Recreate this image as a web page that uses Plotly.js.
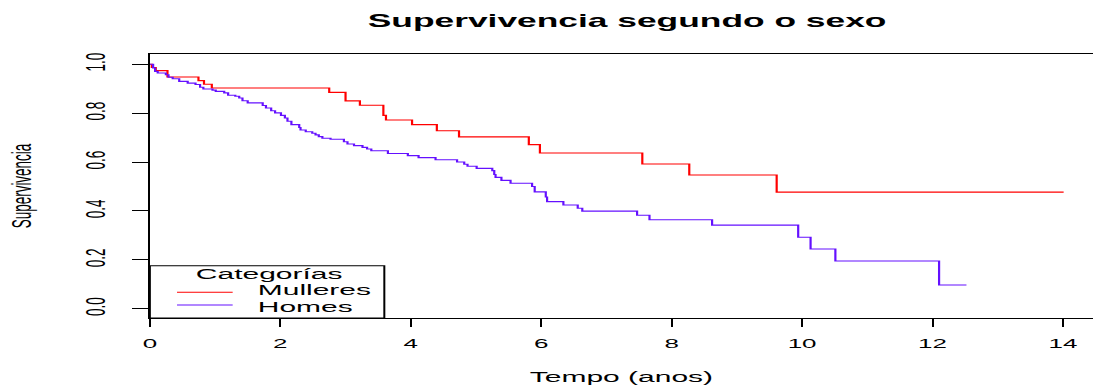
<!DOCTYPE html>
<html>
<head>
<meta charset="utf-8">
<script src="https://cdn.plot.ly/plotly-3.0.1.min.js"></script>
<style>
  html, body { margin: 0; padding: 0; width: 1093px; height: 385px; overflow: hidden; background: #ffffff; }
  #plot { width: 547px; height: 385px; transform-origin: 0 0; }
</style>
</head>
<body>
<div id="plot"></div>
<script>
// ---- data (Kaplan-Meier steps) ----
const chartTitle = "Supervivencia segundo o sexo";
const xTitle = "Tempo (anos)";
const yTitle = "Supervivencia";
const legendTitle = "Categorías";
const seriesNames = ["Mulleres", "Homes"];
const xTicks = [0, 2, 4, 6, 8, 10, 12, 14];
const yTicks = [0.0, 0.2, 0.4, 0.6, 0.8, 1.0];

// Mulleres: time (years) and survival after each step
const mullerTime = [0, 0.03, 0.09, 0.27, 0.745, 0.83, 0.95, 2.75, 3.0, 3.22, 3.58, 3.62, 4.02, 4.40, 4.74, 5.81, 5.98, 7.55, 8.27, 9.61, 14.01];
const mullerSurv = [1.0, 0.987, 0.974, 0.948, 0.933, 0.918, 0.903, 0.885, 0.850, 0.832, 0.791, 0.772, 0.753, 0.728, 0.703, 0.671, 0.637, 0.592, 0.547, 0.477, 0.477];

// Homes
const homeTime = [0, 0.05, 0.08, 0.12, 0.245, 0.286, 0.35, 0.45, 0.58, 0.70, 0.77, 0.82, 0.96, 1.01, 1.14, 1.20, 1.31, 1.37, 1.42, 1.50, 1.73, 1.78, 1.86, 1.92, 2.01, 2.07, 2.11, 2.17, 2.29, 2.31, 2.39, 2.49, 2.54, 2.59, 2.645, 2.77, 2.975, 3.03, 3.13, 3.26, 3.33, 3.395, 3.65, 3.955, 4.12, 4.38, 4.71, 4.82, 4.87, 5.01, 5.25, 5.28, 5.30, 5.39, 5.53, 5.86, 5.90, 6.07, 6.09, 6.34, 6.56, 6.63, 7.47, 7.66, 8.62, 9.94, 10.13, 10.51, 12.10, 12.52];
const homeSurv = [1.0, 0.985, 0.971, 0.964, 0.957, 0.947, 0.941, 0.930, 0.923, 0.917, 0.906, 0.899, 0.894, 0.889, 0.883, 0.873, 0.869, 0.862, 0.851, 0.842, 0.831, 0.821, 0.810, 0.801, 0.791, 0.780, 0.767, 0.753, 0.741, 0.731, 0.724, 0.718, 0.711, 0.704, 0.697, 0.693, 0.683, 0.674, 0.667, 0.660, 0.653, 0.646, 0.635, 0.626, 0.618, 0.609, 0.600, 0.591, 0.583, 0.574, 0.565, 0.549, 0.537, 0.525, 0.513, 0.500, 0.478, 0.457, 0.438, 0.424, 0.411, 0.399, 0.382, 0.364, 0.342, 0.292, 0.244, 0.195, 0.097, 0.097];

const seriesColors = ["#ff0000", "#6410ff"];

// ---- layout (drawn at half width, stretched horizontally like the reference) ----
const W = 547, H = 385;
const SX = 1093 / W;
document.getElementById('plot').style.transform = 'scaleX(' + SX + ')';

const FONT = "Liberation Sans, Arial, Helvetica, sans-serif";

const traces = [
  { x: mullerTime, y: mullerSurv, name: seriesNames[0], type: 'scatter', mode: 'lines',
    line: { shape: 'hv', color: seriesColors[0], width: 1.1 }, showlegend: false, hoverinfo: 'skip' },
  { x: homeTime, y: homeSurv, name: seriesNames[1], type: 'scatter', mode: 'lines',
    line: { shape: 'hv', color: seriesColors[1], width: 1.1 }, showlegend: false, hoverinfo: 'skip' }
];

// manual R-style legend (box at bottom-left of the plot region)
const legX0 = 0, legX1 = 0.2486, legY0 = 0, legY1 = 0.198;
const shapes = [
  { type: 'rect', xref: 'paper', yref: 'paper', x0: legX0, x1: legX1, y0: legY0, y1: legY1,
    line: { color: '#000000', width: 1 }, fillcolor: 'rgba(255,255,255,1)', layer: 'above' },
  { type: 'line', xref: 'paper', yref: 'paper', x0: 0.0288, x1: 0.0878, y0: 0.0973, y1: 0.0973,
    line: { color: seriesColors[0], width: 1 } },
  { type: 'line', xref: 'paper', yref: 'paper', x0: 0.0288, x1: 0.0878, y0: 0.0492, y1: 0.0492,
    line: { color: seriesColors[1], width: 1 } }
];
const annotations = [
  { text: legendTitle, xref: 'paper', yref: 'paper', x: 0.125, y: 0.1667, xanchor: 'center', yanchor: 'middle',
    showarrow: false, font: { family: FONT, size: 15, color: '#000' } },
  { text: seriesNames[0], xref: 'paper', yref: 'paper', x: 0.111, y: 0.1098, xanchor: 'left', yanchor: 'middle',
    showarrow: false, font: { family: FONT, size: 15, color: '#000' } },
  { text: seriesNames[1], xref: 'paper', yref: 'paper', x: 0.111, y: 0.0436, xanchor: 'left', yanchor: 'middle',
    showarrow: false, font: { family: FONT, size: 15, color: '#000' } }
];

const layout = {
  width: W, height: H,
  margin: { l: 75, r: 0, t: 54, b: 67, pad: 0 },
  paper_bgcolor: '#ffffff', plot_bgcolor: '#ffffff',
  font: { family: FONT, color: '#000000' },
  title: { text: chartTitle, font: { family: FONT, size: 17.7, weight: 'bold', color: '#000' },
           xref: 'paper', x: 0.506, xanchor: 'center', yref: 'container', y: 1 - 21 / H, yanchor: 'middle' },
  xaxis: {
    range: [0, 14.46], tickvals: xTicks, ticktext: xTicks.map(String),
    showgrid: false, zeroline: false, showline: true, mirror: true, linecolor: '#000', linewidth: 1,
    ticks: 'outside', ticklen: 8, tickwidth: 1, tickcolor: '#000', ticklabelstandoff: 5,
    tickfont: { family: FONT, size: 13, color: '#000' },
    title: { text: xTitle, font: { family: FONT, size: 15, color: '#000' }, standoff: 23 },
    fixedrange: true
  },
  yaxis: {
    range: [-0.0382, 1.042], tickvals: yTicks, ticktext: yTicks.map(v => v.toFixed(1)),
    showgrid: false, zeroline: false, showline: true, mirror: false, linecolor: '#000', linewidth: 1,
    ticks: 'outside', ticklen: 8, tickwidth: 1, tickcolor: '#000', tickangle: -90, ticklabelstandoff: 8,
    tickfont: { family: FONT, size: 13.5, color: '#000' },
    title: { text: yTitle, font: { family: FONT, size: 13.5, color: '#000' }, standoff: 21 },
    fixedrange: true
  },
  shapes: shapes,
  annotations: annotations,
  showlegend: false
};

Plotly.newPlot('plot', traces, layout, { displayModeBar: false, staticPlot: true });
</script>
</body>
</html>
